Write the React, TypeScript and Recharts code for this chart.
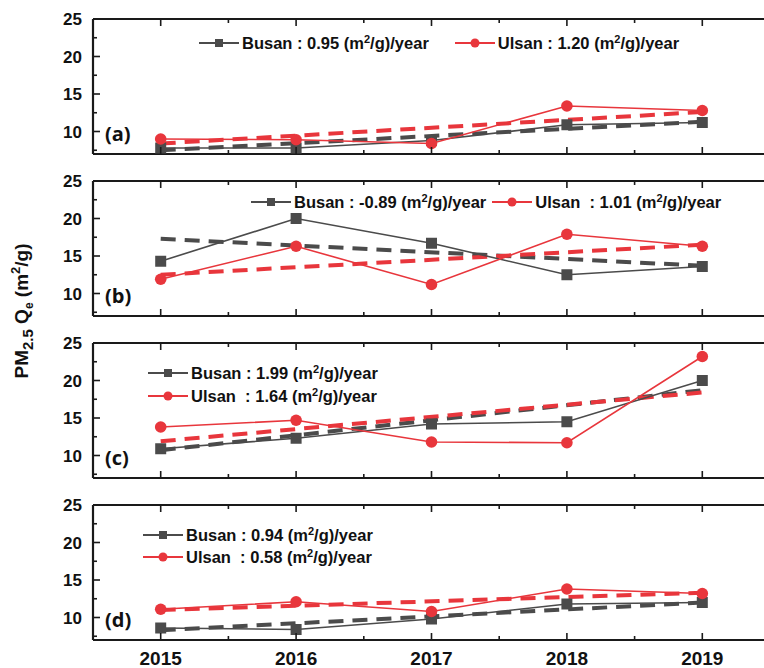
import React from "react"
import { LineChart, Line, XAxis, YAxis } from "recharts"

// values (PM2.5 Qe, m2/g)
const years = [2015, 2016, 2017, 2018, 2019]
const panelNames = ["(a)", "(b)", "(c)", "(d)"]

const busanA = [7.8, 7.8, 8.8, 10.9, 11.2]
const ulsanA = [9.0, 8.9, 8.4, 13.4, 12.8]
const busanB = [14.3, 20.0, 16.7, 12.5, 13.6]
const ulsanB = [11.9, 16.3, 11.2, 17.9, 16.3]
const busanC = [10.9, 12.3, 14.2, 14.5, 20.0]
const ulsanC = [13.8, 14.7, 11.8, 11.7, 23.2]
const busanD = [8.6, 8.4, 9.8, 11.8, 12.0]
const ulsanD = [11.1, 12.1, 10.8, 13.8, 13.2]

// linear trend end points (2015, 2019)
const busanFitA = [7.5, 11.3]
const ulsanFitA = [8.4, 12.6]
const busanFitB = [17.3, 13.7]
const ulsanFitB = [12.5, 16.5]
const busanFitC = [10.7, 18.7]
const ulsanFitC = [11.9, 18.4]
const busanFitD = [8.3, 12.0]
const ulsanFitD = [11.0, 13.3]

const slopeBusan = ["0.95", "-0.89", "1.99", "0.94"]
const slopeUlsan = ["1.20", "1.01", "1.64", "0.58"]

const xTicks = [2015, 2015.5, 2016, 2016.5, 2017, 2017.5, 2018, 2018.5, 2019, 2019.5]
const yTicks = [7.5, 10, 12.5, 15, 17.5, 20, 22.5, 25]
const yMajor = [10, 15, 20, 25]

const GRAY = "#4b4b4b"
const RED = "#e8363c"
const AXIS = "#1a1a1a"
const FONT = "'Liberation Sans', Arial, sans-serif"

const PLOT_H = 135
const M = 12 // chart margin above/below the plot
const panelTops = [19, 181, 343, 505]

function buildRows(busan, ulsan, bFit, uFit) {
  return years.map((y, i) => ({
    year: y,
    busan: busan[i],
    ulsan: ulsan[i],
    busanFit: i === 0 ? bFit[0] : i === years.length - 1 ? bFit[1] : null,
    ulsanFit: i === 0 ? uFit[0] : i === years.length - 1 ? uFit[1] : null,
  }))
}

const panels = [
  { rows: buildRows(busanA, ulsanA, busanFitA, ulsanFitA), legend: { rows: 1, left: 199, top: 34, gap: 26 } },
  { rows: buildRows(busanB, ulsanB, busanFitB, ulsanFitB), legend: { rows: 1, left: 251, top: 193, gap: 6 } },
  { rows: buildRows(busanC, ulsanC, busanFitC, ulsanFitC), legend: { rows: 2, left: 148, top: 364, gap: 5 } },
  { rows: buildRows(busanD, ulsanD, busanFitD, ulsanFitD), legend: { rows: 2, left: 143, top: 526, gap: 4 } },
]

function SquareDot(props) {
  const { cx, cy, index } = props
  if (cx == null || cy == null) return <g key={index} />
  return <rect key={index} x={cx - 5.5} y={cy - 5.5} width={11} height={11} fill={GRAY} />
}

function CircleDot(props) {
  const { cx, cy, index } = props
  if (cx == null || cy == null) return <g key={index} />
  return <circle key={index} cx={cx} cy={cy} r={5.8} fill={RED} />
}

function BottomTick({ x, y, payload, showLabel }) {
  const major = Number.isInteger(payload.value)
  return (
    <g>
      <line x1={x} x2={x} y1={y} y2={y - (major ? 7 : 4)} stroke={AXIS} strokeWidth={1.6} />
      {showLabel && major && (
        <text x={x} y={y + 25} textAnchor="middle" fontSize={19} fontWeight="bold" fill="#111" fontFamily={FONT}>
          {payload.value}
        </text>
      )}
    </g>
  )
}

function TopTick({ x, y, payload }) {
  const major = Number.isInteger(payload.value)
  return <line x1={x} x2={x} y1={y} y2={y + (major ? 7 : 4)} stroke={AXIS} strokeWidth={1.6} />
}

function LeftTick({ x, y, payload }) {
  const major = yMajor.includes(payload.value)
  return (
    <g>
      <line x1={x} x2={x + (major ? 7 : 4)} y1={y} y2={y} stroke={AXIS} strokeWidth={1.6} />
      {major && (
        <text x={x - 11} y={y + 6} textAnchor="end" fontSize={17} fontWeight="bold" fill="#111" fontFamily={FONT}>
          {payload.value}
        </text>
      )}
    </g>
  )
}

function RightTick({ x, y }) {
  return <line x1={x} x2={x - 12} y1={y} y2={y} stroke={AXIS} strokeWidth={1.6} />
}

function LegendItem({ color, square, label, slope }) {
  return (
    <div style={{ display: "flex", alignItems: "center", whiteSpace: "pre", height: 18 }}>
      <svg width={40} height={12} style={{ marginRight: 3 }}>
        <line x1={0} x2={40} y1={6} y2={6} stroke={color} strokeWidth={2} />
        {square ? <rect x={16} y={2} width={8} height={8} fill={color} /> : <circle cx={20} cy={6} r={4.5} fill={color} />}
      </svg>
      <span>
        {label}: {slope} (m<sup style={{ fontSize: 11, lineHeight: 0 }}>2</sup>/g)/year
      </span>
    </div>
  )
}

function PanelLegend({ idx }) {
  const layout = panels[idx].legend
  return (
    <div
      style={{
        position: "absolute",
        left: layout.left,
        top: layout.top,
        display: "flex",
        flexDirection: layout.rows === 2 ? "column" : "row",
        gap: layout.gap,
        fontFamily: FONT,
        fontWeight: "bold",
        fontSize: 16.5,
        color: "#111",
        lineHeight: "18px",
      }}
    >
      <LegendItem color={GRAY} square label="Busan " slope={slopeBusan[idx]} />
      <LegendItem color={RED} label={idx === 0 ? "Ulsan " : "Ulsan  "} slope={slopeUlsan[idx]} />
    </div>
  )
}

function Panel({ idx }) {
  const p = panels[idx]
  const last = idx === panels.length - 1
  const mb = last ? 34 : M
  return (
    <div style={{ position: "absolute", left: 0, top: panelTops[idx] - M - 1 }}>
      <LineChart width={800} height={PLOT_H + M + mb + 2} data={p.rows} margin={{ top: M, right: 0, left: 0, bottom: mb }}>
        <XAxis
          xAxisId="b"
          dataKey="year"
          type="number"
          domain={[2014.5, 2019.5]}
          ticks={xTicks}
          interval={0}
          height={1}
          tickSize={0}
          tickMargin={0}
          tickLine={false}
          axisLine={{ stroke: AXIS, strokeWidth: 2.2 }}
          tick={<BottomTick showLabel={last} />}
        />
        <XAxis
          xAxisId="t"
          orientation="top"
          dataKey="year"
          type="number"
          domain={[2014.5, 2019.5]}
          ticks={xTicks}
          interval={0}
          height={1}
          tickSize={0}
          tickMargin={0}
          tickLine={false}
          axisLine={{ stroke: AXIS, strokeWidth: 2.2 }}
          tick={<TopTick />}
        />
        <YAxis
          yAxisId="l"
          domain={[7, 25]}
          ticks={yTicks}
          interval={0}
          width={93}
          tickSize={0}
          tickMargin={0}
          tickLine={false}
          axisLine={{ stroke: AXIS, strokeWidth: 2.2 }}
          tick={<LeftTick />}
        />
        <YAxis
          yAxisId="r"
          orientation="right"
          domain={[7, 25]}
          ticks={yMajor}
          interval={0}
          width={30}
          tickSize={0}
          tickMargin={0}
          tickLine={false}
          axisLine={{ stroke: AXIS, strokeWidth: 2.2 }}
          tick={<RightTick />}
        />
        <Line xAxisId="b" yAxisId="l" dataKey="busanFit" stroke={GRAY} strokeWidth={4} strokeDasharray="15 9" dot={false} connectNulls isAnimationActive={false} />
        <Line xAxisId="b" yAxisId="l" dataKey="ulsanFit" stroke={RED} strokeWidth={4} strokeDasharray="15 9" dot={false} connectNulls isAnimationActive={false} />
        <Line xAxisId="b" yAxisId="l" dataKey="busan" stroke={GRAY} strokeWidth={1.6} dot={<SquareDot />} isAnimationActive={false} />
        <Line xAxisId="b" yAxisId="l" dataKey="ulsan" stroke={RED} strokeWidth={1.6} dot={<CircleDot />} isAnimationActive={false} />
      </LineChart>
    </div>
  )
}

function PanelTag({ idx }) {
  return (
    <div
      style={{
        position: "absolute",
        left: 105,
        top: panelTops[idx] + PLOT_H - 34,
        fontFamily: "'Open Sans', sans-serif",
        fontWeight: 700,
        fontSize: 20,
        color: "#111",
        lineHeight: "27px",
      }}
    >
      {panelNames[idx]}
    </div>
  )
}

export default function App() {
  return (
    <div style={{ position: "absolute", left: 0, top: 0, width: 764, height: 668, overflow: "hidden", background: "#fff" }}>
      {panels.map((_, i) => (
        <Panel key={i} idx={i} />
      ))}
      {panels.map((_, i) => (
        <PanelTag key={"t" + i} idx={i} />
      ))}
      {panels.map((_, i) => (
        <PanelLegend key={"l" + i} idx={i} />
      ))}
      <div
        style={{
          position: "absolute",
          left: 22,
          top: 311,
          transform: "translate(-50%, -50%) rotate(-90deg)",
          whiteSpace: "nowrap",
          fontFamily: FONT,
          fontWeight: "bold",
          fontSize: 19,
          color: "#111",
        }}
      >
        PM<sub style={{ fontSize: 15 }}>2.5</sub> Q<sub style={{ fontSize: 12 }}>e</sub> (m<sup style={{ fontSize: 13 }}>2</sup>/g)
      </div>
    </div>
  )
}
